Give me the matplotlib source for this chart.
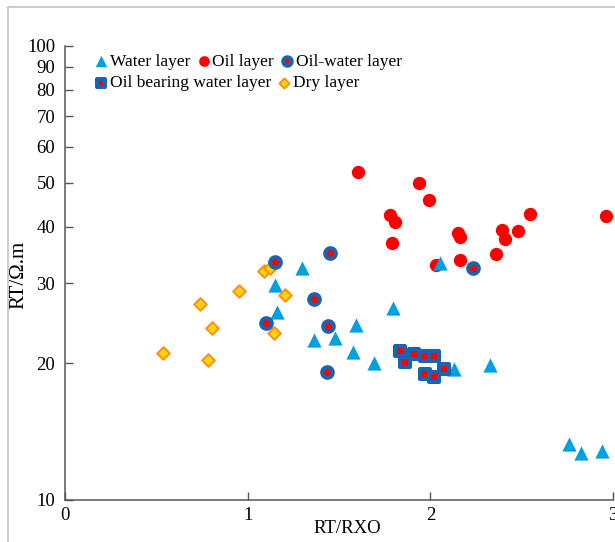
import matplotlib
matplotlib.use('Agg')
import matplotlib.pyplot as plt
from matplotlib.lines import Line2D

plt.rcParams['font.family'] = ['Liberation Serif', 'DejaVu Serif']

# RT/RXO vs RT for each layer type
water_x = [1.151, 1.297, 1.162, 1.361, 1.476, 1.593, 1.574, 1.693, 1.797, 2.055,
           2.132, 2.325, 2.760, 2.827, 2.941]
water_y = [29.8, 32.5, 25.9, 22.5, 22.7, 24.3, 21.2, 20.0, 26.5, 33.2,
           19.4, 19.8, 13.3, 12.7, 12.8]

oil_x = [1.604, 1.940, 1.991, 1.777, 1.806, 1.789, 2.152, 2.161, 2.164, 2.033,
         2.391, 2.409, 2.482, 2.546, 2.358, 2.959]
oil_y = [52.9, 49.9, 45.8, 42.4, 41.0, 36.8, 38.7, 38.0, 33.8, 33.0,
         39.3, 37.5, 39.1, 42.7, 34.9, 42.3]

oilwater_x = [1.151, 1.448, 1.364, 1.100, 1.439, 1.434, 2.234]
oilwater_y = [33.4, 35.0, 27.7, 24.6, 24.2, 19.1, 32.5]

bearing_x = [1.836, 1.863, 1.909, 1.973, 2.018, 2.073, 1.973, 2.022]
bearing_y = [21.3, 20.1, 21.0, 20.8, 20.8, 19.4, 18.9, 18.7]

dry_x = [1.090, 1.120, 0.950, 1.205, 0.740, 0.805, 1.143, 0.535, 0.785]
dry_y = [31.9, 32.5, 28.9, 28.3, 27.0, 23.9, 23.3, 21.1, 20.3]

y_ticks = [10, 20, 30, 40, 50, 60, 70, 80, 90, 100]
x_ticks = [0, 1, 2, 3]

fig = plt.figure(figsize=(6.15, 5.42), dpi=100)
ax = fig.add_axes([65 / 615, 1 - 500 / 542, 548 / 615, 454 / 542])

c_water = '#00a0e2'
c_red = '#ff0000'
c_blue = '#1864b0'

h_oil = ax.scatter(oil_x, oil_y, s=92, marker='o', color=c_red, linewidths=0,
                   zorder=2, label='Oil layer')
h_water = ax.scatter(water_x, water_y, s=105, marker='^', color=c_water, linewidths=0,
                     zorder=3, label='Water layer')
h_dry = ax.scatter(dry_x, dry_y, s=42, marker='D', facecolor='#ffd21a',
                   edgecolor='#ff8c00', linewidths=1.3, zorder=4, label='Dry layer')
h_ow = ax.scatter(oilwater_x, oilwater_y, s=60, marker='o', facecolor=c_red,
                  edgecolor=c_blue, linewidths=2.8, zorder=5, label='Oil-water layer')
h_ob = ax.scatter(bearing_x, bearing_y, s=52, marker='s', facecolor=c_red,
                  edgecolor=c_blue, linewidths=2.9, zorder=5,
                  label='Oil bearing water layer')

ax.set_yscale('log')
ax.set_xlim(0, 3)
ax.set_ylim(10, 100)
ax.set_yticks(y_ticks)
ax.set_yticklabels([str(t) for t in y_ticks])
ax.yaxis.set_minor_locator(matplotlib.ticker.NullLocator())
ax.set_xticks(x_ticks)
ax.set_xticklabels([str(t) for t in x_ticks])
ax.tick_params(direction='in', length=6, width=1, color='#555555', labelsize=13.5)
ax.tick_params(axis='y', pad=7)
ax.tick_params(axis='x', pad=5)

for side in ['top', 'right']:
    ax.spines[side].set_visible(False)
for side in ['left', 'bottom']:
    ax.spines[side].set_color('#555555')
    ax.spines[side].set_linewidth(1.1)

ax.set_xlabel('RT/RXO', fontsize=13.5)
ax.xaxis.set_label_coords(0.515, -0.045)
ax.set_ylabel('RT/Ω.m', fontsize=15)
ax.yaxis.set_label_coords(-0.0675, 0.495)

leg_kw = dict(frameon=False, loc='upper left', fontsize=12.5, handletextpad=0.0,
              columnspacing=0.25, handlelength=1.0, borderaxespad=0, borderpad=0,
              scatterpoints=1, markerscale=0.8)
leg1 = ax.legend(handles=[h_water, h_oil, h_ow], ncol=3,
                 bbox_to_anchor=(0.0507, 0.983), **leg_kw)
ax.add_artist(leg1)
ax.legend(handles=[h_ob, h_dry], ncol=2, bbox_to_anchor=(0.0507, 0.936), **leg_kw)

# light grey frame of the original picture
fig.add_artist(Line2D([7.5 / 615, 7.5 / 615], [0, 1 - 7 / 542], color='#c4c4c4', lw=1.2))
fig.add_artist(Line2D([7.5 / 615, 1], [1 - 7 / 542, 1 - 7 / 542], color='#c4c4c4', lw=1.2))

fig.savefig('out.png', dpi=100)
